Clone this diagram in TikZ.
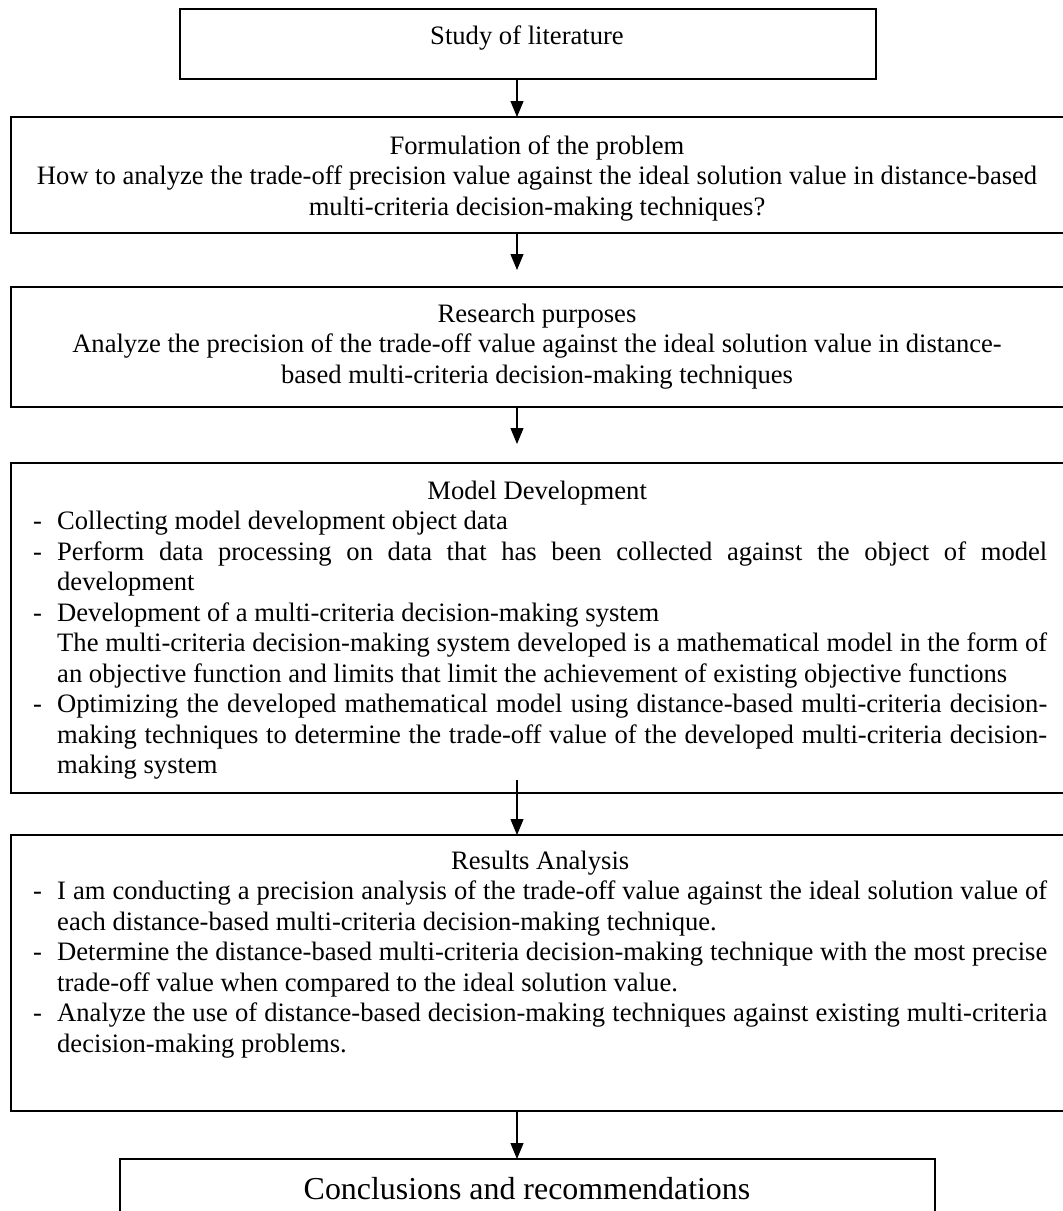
\documentclass[tikz,border=0pt]{standalone}
\usepackage{fontspec}
\setmainfont{Liberation Serif}
\usetikzlibrary{arrows.meta}
\newcommand{\myspaces}{\spaceskip=0.25em plus 0.3em minus 0.06em\relax\xspaceskip=0pt\relax}
\newcommand{\dashitem}[1]{\makebox[24pt][l]{-}\hbox to 990pt{\myspaces #1}}
\newcommand{\dashlast}[1]{\makebox[24pt][l]{-}\hbox{\myspaces #1}}
\newcommand{\contline}[1]{\hspace*{24pt}\hbox to 990pt{\myspaces #1}}
\newcommand{\contlast}[1]{\hspace*{24pt}\hbox{\myspaces #1}}
\newcommand{\myfont}{\fontsize{26.6pt}{30.5pt}\selectfont}
\newcommand{\conclfont}{\fontsize{31.9pt}{36pt}\selectfont}
\begin{document}
\begin{tikzpicture}[x=1pt,y=-1pt,
  box/.style={draw=black, line width=1.5pt, inner sep=0pt, outer sep=0pt, anchor=north west},
  arr/.style={draw=black, line width=1.1pt, -{Triangle[length=16pt,width=13pt]}},
  txt/.style={inner sep=0pt, font=\myfont},
  ctxt/.style={txt, anchor=base, text width=1040pt},
  ltxt/.style={txt, anchor=base west, text width=1014pt}]
\useasboundingbox (0,0) rectangle (1063,1211);
\clip (0,0) rectangle (1063,1211);
\fill[white] (0,0) rectangle (1063,1211);
\coordinate (ax) at (517,0);
% boxes
\node[box, minimum width=696pt, minimum height=70pt] (study) at (180,9) {};
\node[box, minimum width=1070pt, minimum height=116pt] (form) at (11,117) {};
\node[box, minimum width=1070pt, minimum height=120pt] (res) at (11,287) {};
\node[box, minimum width=1070pt, minimum height=330pt] (model) at (11,463) {};
\node[box, minimum width=1070pt, minimum height=276pt] (results) at (11,835) {};
\node[box, minimum width=815pt, minimum height=80pt] (concl) at (120,1159) {};
% texts
\node[txt, anchor=base] (studyt) at (527,44) {\myspaces Study of literature};
\node[ctxt] (formt) at (537,154) {\centering\myspaces Formulation of the problem\\How to analyze the trade-off precision value against the ideal solution value in distance-based\\multi-criteria decision-making techniques?\par};
\node[ctxt] (rest) at (537,322) {\centering\myspaces Research purposes\\Analyze the precision of the trade-off value against the ideal solution value in distance-\\based multi-criteria decision-making techniques\par};
\node[ltxt] (modelt) at (33,499) {\myspaces\makebox[1008pt][c]{Model Development}\\
\dashlast{Collecting model development object data}\\
\dashitem{Perform data processing on data that has been collected against the object of model}\\
\contlast{development}\\
\dashlast{Development of a multi-criteria decision-making system}\\
\contline{The multi-criteria decision-making system developed is a mathematical model in the form of}\\
\contlast{an objective function and limits that limit the achievement of existing objective functions}\\
\dashitem{Optimizing the developed mathematical model using distance-based multi-criteria decision-}\\
\contline{making techniques to determine the trade-off value of the developed multi-criteria decision-}\\
\contlast{making system}};
\node[ltxt] (resultst) at (33,869) {\myspaces\makebox[1014pt][c]{Results Analysis}\\
\dashitem{I am conducting a precision analysis of the trade-off value against the ideal solution value of}\\
\contlast{each distance-based multi-criteria decision-making technique.}\\
\dashitem{Determine the distance-based multi-criteria decision-making technique with the most precise}\\
\contlast{trade-off value when compared to the ideal solution value.}\\
\dashitem{Analyze the use of distance-based decision-making techniques against existing multi-criteria}\\
\contlast{decision-making problems.}};
\node[inner sep=0pt, anchor=base, font=\conclfont] (conclt) at (527,1199) {\myspaces Conclusions and recommendations};
% arrows
\draw[arr] (study.south -| ax) -- (form.north -| ax);
\draw[arr, shorten >=17pt] (form.south -| ax) -- (res.north -| ax);
\draw[arr, shorten >=19pt] (res.south -| ax) -- (model.north -| ax);
\draw[arr, shorten <=-13pt] (model.south -| ax) -- (results.north -| ax);
\draw[arr] (results.south -| ax) -- (concl.north -| ax);
\end{tikzpicture}
\end{document}
